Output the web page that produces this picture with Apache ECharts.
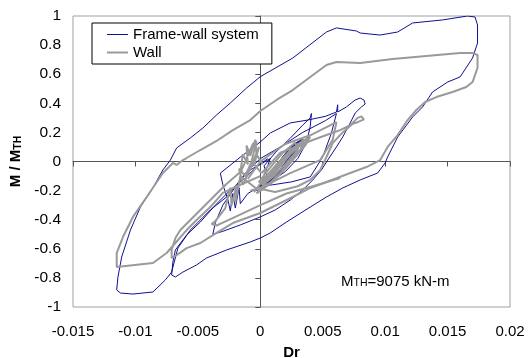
<!DOCTYPE html>
<html><head><meta charset="utf-8">
<script src="https://cdn.jsdelivr.net/npm/echarts@6/dist/echarts.min.js"></script>
<style>html,body{margin:0;padding:0;background:#fff}#c{width:530px;height:358px}</style>
</head><body><div id="c"></div>
<script>
// ---- axis ticks ----
const xTicks = [-0.015, -0.01, -0.005, 0, 0.005, 0.01, 0.015, 0.02];
const yTicks = [-1, -0.8, -0.6, -0.4, -0.2, 0, 0.2, 0.4, 0.6, 0.8, 1];
const seriesNames = ['Frame-wall system', 'Wall'];

// ---- Frame-wall system (blue) ----
const frameCore = [
 [-0.0001,-0.19],[0.0006,-0.09],[0.0014,-0.01],[0.0022,0.07],[0.0030,0.13],[0.0034,0.15],[0.0031,0.10],[0.0024,0.02],[0.0016,-0.07],[0.0008,-0.15],[0.0001,-0.20],
 [0.0004,-0.13],[0.0012,-0.04],[0.0020,0.05],[0.0027,0.11],[0.0031,0.12],[0.0028,0.07],[0.0020,-0.02],[0.0012,-0.11],[0.0003,-0.18],[0.0000,-0.19],
 [0.0005,-0.11],[0.0014,-0.02],[0.0023,0.08],[0.0029,0.13],[0.0033,0.14],[0.0030,0.09],[0.0022,0.00],[0.0013,-0.09],[0.0005,-0.16],
 [0.0010,-0.07],[0.0018,0.02],[0.0025,0.09],[0.0026,0.06],[0.0018,-0.03],[0.0010,-0.12],[0.0002,-0.17],[0.0008,-0.08],[0.0016,0.01],
 [0.0024,0.10],[0.0032,0.14],[0.0029,0.08],[0.0021,-0.01],[0.0012,-0.10],[0.0004,-0.15],[0.0009,-0.06],[0.0019,0.04],[0.0027,0.12],
 [0.0033,0.15],[0.0026,0.05],[0.0016,-0.05],[0.0006,-0.13],[0.0003,-0.03]
];
const frameMid = [
 [0.0003,-0.03],[0.0012,0.06],[0.0024,0.16],[0.0034,0.25],[0.0040,0.30],[0.0041,0.33],[0.0040,0.24],[0.0037,0.13],[0.0030,0.02],
 [0.0020,-0.07],[0.0008,-0.14],[0.0000,-0.17],[-0.0010,-0.22],[-0.0016,-0.29],[-0.0017,-0.18],[-0.0020,-0.32],[-0.0022,-0.22],
 [-0.0024,-0.34],[-0.0026,-0.26],[-0.0030,-0.16],[-0.0032,-0.08],[-0.0016,0.03],[0.0000,0.134],[0.0008,0.196],[0.0024,0.265],
 [0.0038,0.285],[0.0052,0.31],[0.0061,0.34],[0.0062,0.39],[0.0062,0.34],[0.0069,0.375],[0.0076,0.423],[0.0080,0.436],[0.0083,0.423],
 [0.0084,0.395],[0.0081,0.375],[0.0076,0.333],[0.0072,0.265],[0.0066,0.168],[0.0061,0.10],[0.0054,0.01],[0.0049,-0.058],
 [0.0042,-0.127],[0.0034,-0.196],[0.0024,-0.265],[0.0012,-0.333],[0.0000,-0.381],[-0.0016,-0.436],[-0.0030,-0.48],[-0.0038,-0.50],
 [-0.0036,-0.42],[-0.0030,-0.30],[-0.0022,-0.20],[-0.0012,-0.08],[0.0000,0.02],[0.0016,0.10],[0.0034,0.20],[0.0052,0.28],
 [0.0061,0.33],[0.0057,0.196],[0.0050,0.031],[0.0040,-0.106],[0.0025,-0.14],[0.0010,-0.16],[0.0000,-0.17],[0.0008,0.02]
];
const frameOuter = [
 [0.0008,0.02],[-0.0008,-0.058],[-0.0016,-0.127],[-0.0027,-0.244],[-0.0040,-0.333],[-0.0056,-0.471],[-0.0066,-0.595],
 [-0.0071,-0.76],[-0.0076,-0.814],[-0.0086,-0.897],[-0.0102,-0.911],[-0.0112,-0.904],[-0.0115,-0.883],[-0.0114,-0.794],
 [-0.0111,-0.656],[-0.0104,-0.471],[-0.0096,-0.313],[-0.0087,-0.196],[-0.0078,-0.058],[-0.0072,0.01],[-0.0067,0.093],
 [-0.0056,0.162],[-0.0046,0.23],[-0.0035,0.32],[-0.0024,0.402],[-0.0011,0.505],[0.0000,0.583],[0.0026,0.711],[0.0053,0.89],
 [0.0061,0.918],[0.0077,0.897],[0.0080,0.883],[0.0096,0.869],[0.0110,0.89],[0.0122,0.952],[0.0146,0.973],[0.0166,1.0],
 [0.0172,0.993],[0.0174,0.938],[0.0174,0.814],[0.0170,0.711],[0.0160,0.581],[0.0150,0.546],[0.0138,0.478],[0.0130,0.375],
 [0.0122,0.306],[0.0110,0.168],[0.0102,0.031],[0.0100,-0.01],[0.0094,-0.079],[0.0080,-0.127],[0.0066,-0.182],[0.0053,-0.244],
 [0.0040,-0.313],[0.0021,-0.416],[0.0008,-0.491],[0.0000,-0.526],[-0.0008,-0.553],[-0.0027,-0.608],[-0.0043,-0.663],
 [-0.0051,-0.711],[-0.0062,-0.76],[-0.0068,-0.794],[-0.0071,-0.78],[-0.0070,-0.691],[-0.0068,-0.608],[-0.0059,-0.505],
 [-0.0048,-0.416],[-0.0036,-0.30],[-0.0024,-0.196],[-0.0012,-0.113],[-0.0004,-0.045],[0.0006,0.02]
];

// ---- Wall (grey) ----
const wallCore = [
 [-0.0005,-0.21],[0.0003,-0.12],[0.0012,-0.03],[0.0022,0.06],[0.0032,0.13],[0.0040,0.17],[0.0036,0.11],[0.0027,0.03],[0.0017,-0.07],
 [0.0007,-0.16],[-0.0003,-0.22],[0.0004,-0.15],[0.0014,-0.05],[0.0024,0.05],[0.0033,0.12],[0.0037,0.13],[0.0030,0.05],[0.0020,-0.05],
 [0.0010,-0.14],[0.0000,-0.20],[0.0006,-0.10],[0.0016,0.00],[0.0026,0.09],[0.0035,0.15],[0.0032,0.08],[0.0022,-0.02],[0.0012,-0.12],
 [0.0002,-0.18],[0.0009,-0.08],[0.0019,0.02],[0.0029,0.11],[0.0038,0.16],[0.0034,0.10],[0.0025,0.00],[0.0015,-0.09],[0.0005,-0.17],
 [-0.0001,-0.14],[0.0008,-0.04],[0.0018,0.06],[0.0028,0.13],[0.0030,0.08],[0.0021,-0.01],[0.0011,-0.10],[0.0002,-0.16],[0.0004,-0.05]
];
const wallLeft = [
 [0.0002,-0.02],[-0.0003,0.05],[-0.0004,0.15],[-0.0008,0.04],[-0.0011,0.11],[-0.0010,-0.02],[-0.0014,0.05],[-0.0016,-0.08],
 [-0.0011,0.02],[-0.0006,0.12],[-0.0003,0.14],[-0.0007,0.00],[-0.0012,-0.10],[-0.0017,-0.05],[-0.0014,-0.16],[-0.0008,-0.05],
 [-0.0003,0.06],[-0.0001,0.10],[-0.0005,-0.02],[0.0001,-0.08]
];
const wallMid = [
 [0.0001,-0.08],[0.0016,0.06],[0.0032,0.113],[0.0042,0.148],[0.0053,0.182],[0.0064,0.216],[0.0072,0.25],[0.0078,0.30],
 [0.0081,0.31],[0.0083,0.29],[0.0078,0.27],[0.0074,0.26],[0.0066,0.20],[0.0058,0.127],[0.0053,0.031],[0.0048,-0.058],
 [0.0040,-0.127],[0.0030,-0.17],[0.0012,-0.21],[-0.0004,-0.18],[-0.0016,-0.10],[-0.0020,-0.28],[-0.0019,-0.16],[-0.0023,-0.30],
 [-0.0024,-0.18],[-0.0028,-0.32],[-0.0036,-0.41],[-0.0039,-0.43],[-0.0035,-0.44],[-0.0030,-0.42],[-0.0020,-0.38],[0.0000,-0.30],
 [0.0021,-0.22],[0.0042,-0.17],[0.0064,-0.114]
];
const wallSpike = [
 [-0.0010,-0.12],[0.0000,0.0],[0.0020,0.12],[0.0040,0.18],[0.0061,0.27],[0.0058,0.15],[0.0048,0.01],[0.0024,-0.08],
 [0.0002,-0.175],[-0.0008,-0.20]
];
const wallOuter = [
 [0.0000,-0.10],[-0.0016,-0.16],[-0.0030,-0.216],[-0.0040,-0.313],[-0.0051,-0.402],[-0.0059,-0.471],[-0.0068,-0.56],
 [-0.0075,-0.629],[-0.0086,-0.698],[-0.0115,-0.725],[-0.0115,-0.677],[-0.0115,-0.629],[-0.0110,-0.519],[-0.0102,-0.381],
 [-0.0091,-0.244],[-0.0078,-0.079],[-0.0070,-0.01],[-0.0067,-0.024],[-0.0062,0.01],[-0.0059,0.024],[-0.0048,0.079],
 [-0.0035,0.141],[-0.0022,0.216],[-0.0008,0.285],[0.0000,0.347],[0.0013,0.423],[0.0026,0.491],[0.0040,0.581],[0.0053,0.663],
 [0.0061,0.684],[0.0080,0.677],[0.0106,0.704],[0.0133,0.725],[0.0160,0.746],[0.0170,0.746],[0.0174,0.732],[0.0174,0.643],
 [0.0170,0.546],[0.0165,0.512],[0.0154,0.478],[0.0141,0.443],[0.0132,0.409],[0.0125,0.354],[0.0118,0.285],[0.0110,0.182],
 [0.0102,0.10],[0.0096,0.01],[0.0085,-0.038],[0.0072,-0.079],[0.0053,-0.141],[0.0040,-0.182],[0.0026,-0.244],[0.0013,-0.299],
 [0.0000,-0.354],[-0.0022,-0.423],[-0.0035,-0.491],[-0.0048,-0.56],[-0.0059,-0.595],[-0.0067,-0.643],[-0.0071,-0.663],
 [-0.0071,-0.608],[-0.0068,-0.526],[-0.0064,-0.471],[-0.0052,-0.368],[-0.0040,-0.265],[-0.0028,-0.161],[-0.0016,-0.072]
];

const BLUE = '#10108f', GREY = '#9a9a9a';
const FONT = "'Liberation Sans', Arial, sans-serif";
function lineSeries(name, data, color, width) {
  return { type: 'line', name: name, data: data, xAxisIndex: 0, yAxisIndex: 0,
    symbol: 'none', showSymbol: false, smooth: false, animation: false,
    lineStyle: { color: color, width: width }, itemStyle: { color: color } };
}
const fmtX = v => String(Number(v.toFixed(3)));
const fmtY = v => String(Number(v.toFixed(1)));

const chart = echarts.init(document.getElementById('c'));
chart.setOption({
  animation: false,
  grid: { left: 73, right: 20, top: 16, bottom: 51, outerBoundsMode: 'none', containLabel: false,
          show: true, borderColor: '#a0a0a0', borderWidth: 1, backgroundColor: 'transparent' },
  legend: {
    data: [
      { name: seriesNames[0], icon: 'path://M0,0H21V1H0Z', itemStyle: { color: BLUE } },
      { name: seriesNames[1], icon: 'path://M0,0H21V2H0Z', itemStyle: { color: GREY } }
    ],
    orient: 'vertical', left: 92, top: 23,
    padding: [4, 13, 4, 15], itemWidth: 21, itemHeight: 15, itemGap: 3,
    borderColor: '#000', borderWidth: 1, backgroundColor: '#fff',
    textStyle: { fontFamily: FONT, fontSize: 15, color: '#000', lineHeight: 15 }
  },
  title: {
    text: '{a|M}{s|TH}{a|=9075 kN-m}', left: 341, top: 272, padding: 0,
    textStyle: { fontWeight: 'normal', rich: {
      a: { fontFamily: FONT, fontSize: 15, fontWeight: 'normal', color: '#000', verticalAlign: 'bottom', lineHeight: 17 },
      s: { fontFamily: FONT, fontSize: 10.5, fontWeight: 'normal', color: '#000', verticalAlign: 'bottom', lineHeight: 17, padding: [3, 0, 0, 0] }
    } }
  },
  xAxis: [
    { type: 'value', min: xTicks[0], max: xTicks[xTicks.length - 1], interval: 0.005, position: 'bottom',
      axisLine: { onZero: true, lineStyle: { color: '#555', width: 1 } },
      axisTick: { show: true, length: 5, lineStyle: { color: '#555' } },
      axisLabel: { show: false }, splitLine: { show: false } },
    { type: 'value', min: xTicks[0], max: xTicks[xTicks.length - 1], interval: 0.005, position: 'bottom',
      axisLine: { show: false, onZero: false }, axisTick: { show: false }, splitLine: { show: false },
      axisLabel: { margin: 17, fontFamily: FONT, fontSize: 15, color: '#000', formatter: fmtX },
      name: 'Dr', nameLocation: 'middle', nameGap: 38,
      nameTextStyle: { fontFamily: FONT, fontSize: 15, fontWeight: 'bold', color: '#000' } }
  ],
  yAxis: [
    { type: 'value', min: yTicks[0], max: yTicks[yTicks.length - 1], interval: 0.2, position: 'left',
      axisLine: { onZero: true, lineStyle: { color: '#555', width: 1 } },
      axisTick: { show: true, length: 5, lineStyle: { color: '#555' } },
      axisLabel: { show: false }, splitLine: { show: false } },
    { type: 'value', min: yTicks[0], max: yTicks[yTicks.length - 1], interval: 0.2, position: 'left',
      axisLine: { show: false, onZero: false }, axisTick: { show: false }, splitLine: { show: false },
      axisLabel: { margin: 12, fontFamily: FONT, fontSize: 15.5, color: '#000', formatter: fmtY },
      name: '{b|M / M}{s|TH}', nameLocation: 'middle', nameGap: 40, nameRotate: 90,
      nameTextStyle: { rich: {
        b: { fontFamily: FONT, fontSize: 15, fontWeight: 'bold', color: '#000', verticalAlign: 'bottom', lineHeight: 17 },
        s: { fontFamily: FONT, fontSize: 10.5, fontWeight: 'bold', color: '#000', verticalAlign: 'bottom', lineHeight: 17, padding: [3, 0, 0, 0] }
      } } }
  ],
  series: [
    lineSeries(seriesNames[0], frameCore, BLUE, 1),
    lineSeries(seriesNames[0], frameMid, BLUE, 1),
    lineSeries(seriesNames[0], frameOuter, BLUE, 1),
    lineSeries(seriesNames[1], wallCore, GREY, 2),
    lineSeries(seriesNames[1], wallLeft, GREY, 2),
    lineSeries(seriesNames[1], wallMid, GREY, 2),
    lineSeries(seriesNames[1], wallSpike, GREY, 2),
    lineSeries(seriesNames[1], wallOuter, GREY, 2)
  ]
});
</script></body></html>
